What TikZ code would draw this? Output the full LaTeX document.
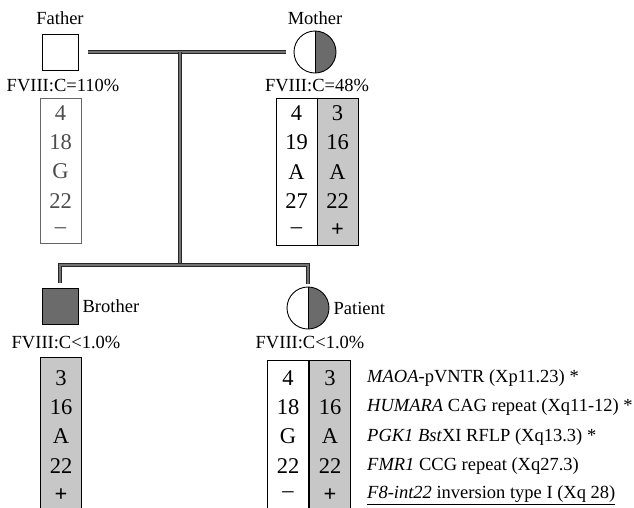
\documentclass[tikz,border=0pt]{standalone}
\usepackage{fontspec}
\setmainfont{Liberation Serif}
\usetikzlibrary{positioning}

\colorlet{affected}{black!58}
\colorlet{stipple}{black!22}

\begin{document}
\begin{tikzpicture}[x=1pt, y=-1pt,
  male/.style={draw, rectangle, minimum size=36pt, inner sep=0pt, line width=0.9pt},
  female/.style={draw, circle, minimum size=42pt, inner sep=0pt, line width=0.9pt,
                 path picture={\fill[affected] (path picture bounding box.north) rectangle (path picture bounding box.south east);
                               \draw[line width=0.9pt] (path picture bounding box.north) -- (path picture bounding box.south);}},
  lbl/.style={font=\fontsize{18.5}{20}\selectfont, inner sep=1pt},
  locus/.style={lbl, anchor=west},
  hapcol/.style={draw, line width=0.7pt, minimum width=41pt, inner sep=0pt},
  shaded/.style={fill=stipple},
  allele/.style={font=\fontsize{22.5}{24}\selectfont, inner sep=0pt},
  kin/.style={draw=black!85, line width=0.8pt, double=black!55, double distance=2.2pt}]
\clip (0,0) rectangle (634,507);
% parents
\node[male] (father) at (60,52) {};
\node[female] (mother) at (315,52) {};
\node[lbl] (fatherlbl) at (60,18) {Father};
\node[lbl] (motherlbl) at (315,18) {Mother};
\node[lbl] (fatherfc) at (63,85) {FVIII:C=110\%};
\node[lbl] (motherfc) at (317,85) {FVIII:C=48\%};
% parental haplotypes
\node[hapcol, draw=black!60, minimum height=145pt] (fcol) at (60.5,170.5) {};
\node[hapcol, minimum height=147pt] (mcolA) at (296.5,171.5) {};
\node[hapcol, shaded, minimum height=147pt] (mcolB) at (337.5,171.5) {};
\foreach \a [count=\i] in {4,18,G,22,\textendash}
  \node[allele, text=black!70] (fa\i) at (60.5,{113+29.3*(\i-1)}) {\a};
\foreach \a/\b [count=\i] in {4/3,19/16,A/A,27/22,\textendash/\textbf{+}} {
  \node[allele] (ma\i) at (296.5,{113+29.3*(\i-1)}) {\a};
  \node[allele] (mb\i) at (337.5,{113+29.3*(\i-1)}) {\b};
}
% children
\node[male, fill=affected] (brother) at (60,306) {};
\node[female] (patient) at (308,308) {};
\node[lbl, right=3pt of brother] (brotherlbl) {Brother};
\node[lbl, right=3pt of patient] (patientlbl) {Patient};
\node[lbl] (brotherfc) at (66,342) {FVIII:C<1.0\%};
\node[lbl] (patientfc) at (310,342) {FVIII:C<1.0\%};
% children haplotypes
\node[hapcol, shaded, minimum height=200pt] (bcol) at (61,457) {};
\node[hapcol, minimum height=200pt] (pcolA) at (288,460) {};
\node[hapcol, shaded, minimum height=200pt] (pcolB) at (330,460) {};
\foreach \a [count=\i] in {3,16,A,22,\textbf{+}}
  \node[allele] (ba\i) at (61,{378+29.25*(\i-1)}) {\a};
\foreach \a/\b [count=\i] in {4/3,18/16,G/A,22/22,\textendash/\textbf{+}} {
  \node[allele] (pa\i) at (288,{378+29.25*(\i-1)}) {\a};
  \node[allele] (pb\i) at (330,{378+29.25*(\i-1)}) {\b};
}
% loci
\node[locus] (l1) at (366,378) {\textit{MAOA}-pVNTR (Xp11.23) *};
\node[locus] (l2) at (366,407) {\textit{HUMARA} CAG repeat (Xq11-12) *};
\node[locus] (l3) at (366,437) {\textit{PGK1 Bst}XI RFLP (Xq13.3) *};
\node[locus] (l4) at (366,466) {\textit{FMR1} CCG repeat (Xq27.3)};
\node[locus] (l5) at (366,495) {\underline{\textit{F8-int22} inversion type I (Xq 28)}};
% pedigree lines
\coordinate (drop) at (180,52);
\coordinate (sibtop) at (180,265);
\coordinate (bsib) at (60,265);
\coordinate (psib) at (308,265);
\draw[kin, shorten <=10pt, shorten >=8pt] (father) -- (mother);
\draw[kin] (drop) -- (sibtop);
\draw[kin, shorten <=5pt, shorten >=3pt] (brother.north) -- (bsib) -- (psib) -- (patient.north);
\end{tikzpicture}
\end{document}
